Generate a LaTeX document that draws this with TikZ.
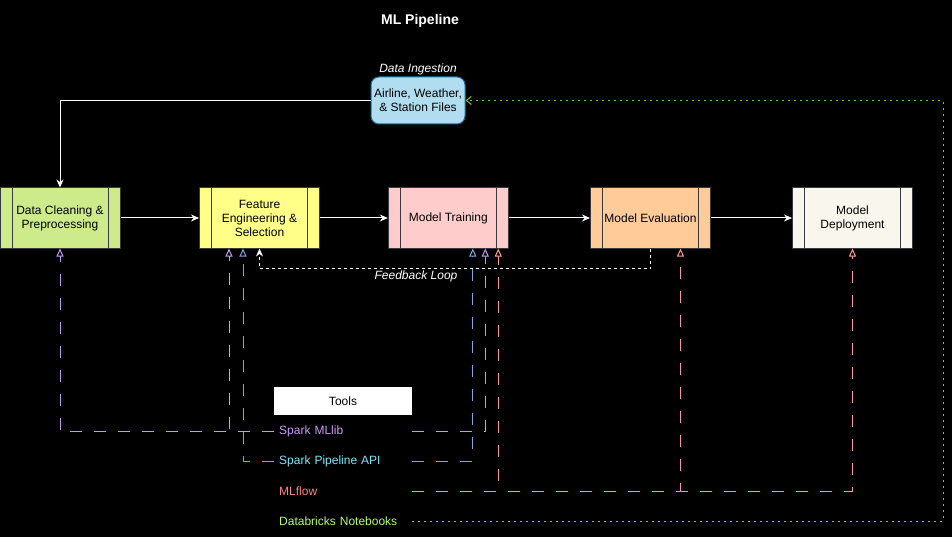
\documentclass[tikz,border=0pt]{standalone}
\usepackage{fontspec}
\setmainfont{Liberation Sans}
\usetikzlibrary{arrows.meta,calc}
\definecolor{dcfill}{HTML}{CDEB8B}
\definecolor{fefill}{HTML}{FFFF88}
\definecolor{mtfill}{HTML}{FFCCCC}
\definecolor{mefill}{HTML}{FFCC99}
\definecolor{mdfill}{HTML}{F9F7ED}
\definecolor{boxdraw}{HTML}{36393D}
\definecolor{ingfill}{HTML}{B1DDF0}
\definecolor{ingdraw}{HTML}{10739E}
\definecolor{purptext}{HTML}{CC99FF}
\definecolor{purpline}{HTML}{C39BF0}
\definecolor{bluetext}{HTML}{80E8FF}
\definecolor{blueline}{HTML}{7EA6E0}
\definecolor{redtext}{HTML}{FF8080}
\definecolor{redline}{HTML}{FF9999}
\definecolor{greentext}{HTML}{B3FF66}
\definecolor{greenline}{HTML}{73D12E}
\begin{document}
\begin{tikzpicture}[x=1pt,y=-1pt,
  every node/.style={font=\fontsize{12}{14}\selectfont},
  procbox/.style={draw=boxdraw,line width=1pt,minimum width=120pt,minimum height=60pt,inner sep=0pt,align=center,text=black,
    path picture={
      \draw[boxdraw,line width=1pt] ([xshift=12pt]path picture bounding box.south west) -- ([xshift=12pt]path picture bounding box.north west);
      \draw[boxdraw,line width=1pt] ([xshift=-12pt]path picture bounding box.south east) -- ([xshift=-12pt]path picture bounding box.north east);
    }},
  flowarrow/.style={draw=white,line width=1pt,-{Stealth[length=8pt,width=7pt]}},
  toollabel/.style={anchor=west,text width=128pt,inner xsep=5pt,inner ysep=2pt,align=left,minimum height=20pt},
  toolarrow/.style={line width=1pt,dash pattern=on 12pt off 12pt,-{Triangle[open,length=8pt,width=7pt]}},
]
\fill[black] (0,0) rectangle (952,537);
\useasboundingbox (0,0) rectangle (952,537);

\node[text=white,font=\fontsize{14}{16}\selectfont\bfseries] (title) at (420,21) {ML Pipeline};

\node[text=white,font=\fontsize{12}{14}\selectfont\itshape] (inglabel) at (418,69) {Data Ingestion};
\node[draw=ingdraw,fill=ingfill,line width=1pt,rounded corners=8pt,minimum width=94pt,minimum height=47pt,inner sep=0pt,align=center,text=black] (ing) at (418,100.5) {Airline, Weather,\\ \& Station Files};

\node[procbox,fill=dcfill] (dc) at (60,218) {Data Cleaning \&\\ Preprocessing};
\node[procbox,fill=fefill] (fe) at (259.5,218) {Feature\\ Engineering \&\\ Selection};
\node[procbox,fill=mtfill] (mt) at (448.3,218) {Model Training};
\node[procbox,fill=mefill] (me) at (650.5,218) {Model Evaluation};
\node[procbox,fill=mdfill] (md) at (852.5,218) {Model\\ Deployment};

\draw[flowarrow] (ing.west) -| (dc.north);
\draw[flowarrow] (dc.east) -- (fe.west);
\draw[flowarrow] (fe.east) -- (mt.west);
\draw[flowarrow] (mt.east) -- (me.west);
\draw[flowarrow] (me.east) -- (md.west);

\draw[draw=white,line width=1pt,dash pattern=on 3pt off 3pt,-{Stealth[length=8pt,width=7pt]}] (me.south) -- ++(0,20) -| (fe.south);
\node[text=white,font=\fontsize{12}{14}\selectfont\itshape] (fbl) at (416,276) {Feedback Loop};

\node[fill=white,minimum width=138pt,minimum height=28pt,inner sep=0pt,text=black] (tools) at (343,401) {Tools};
\node[toollabel,text=purptext] (mllib) at (274,431.5) {Spark MLlib};
\node[toollabel,text=bluetext] (pipe) at (274,461) {Spark Pipeline API};
\node[toollabel,text=redtext] (flow) at (274,491) {MLflow};
\node[toollabel,text=greentext] (nb) at (274,521) {Databricks Notebooks};

\draw[toolarrow,draw=purpline] (mllib.west) -| (dc.south);
\draw[toolarrow,draw=purpline] (mllib.west) -| ($(fe.south)+(-30.5,0)$);
\draw[toolarrow,draw=purpline] (mllib.east) -| ($(mt.south)+(37,0)$);
\draw[toolarrow,draw=blueline] (pipe.west) -| ($(fe.south)+(-16.5,0)$);
\draw[toolarrow,draw=blueline] (pipe.east) -| ($(mt.south)+(24.5,0)$);
\draw[toolarrow,draw=redline] (flow.east) -| ($(mt.south)+(50,0)$);
\draw[toolarrow,draw=redline] (flow.east) -| ($(me.south)+(30,0)$);
\draw[toolarrow,draw=redline] (flow.east) -| (md.south);

\coordinate (nbturn) at (943,100.5);
\draw[draw=greenline,line width=1pt,dash pattern=on 2pt off 4pt,-{Straight Barb[length=5pt,width=8pt]}] (nb.east) -| (nbturn) -- (ing.east);
\end{tikzpicture}
\end{document}
